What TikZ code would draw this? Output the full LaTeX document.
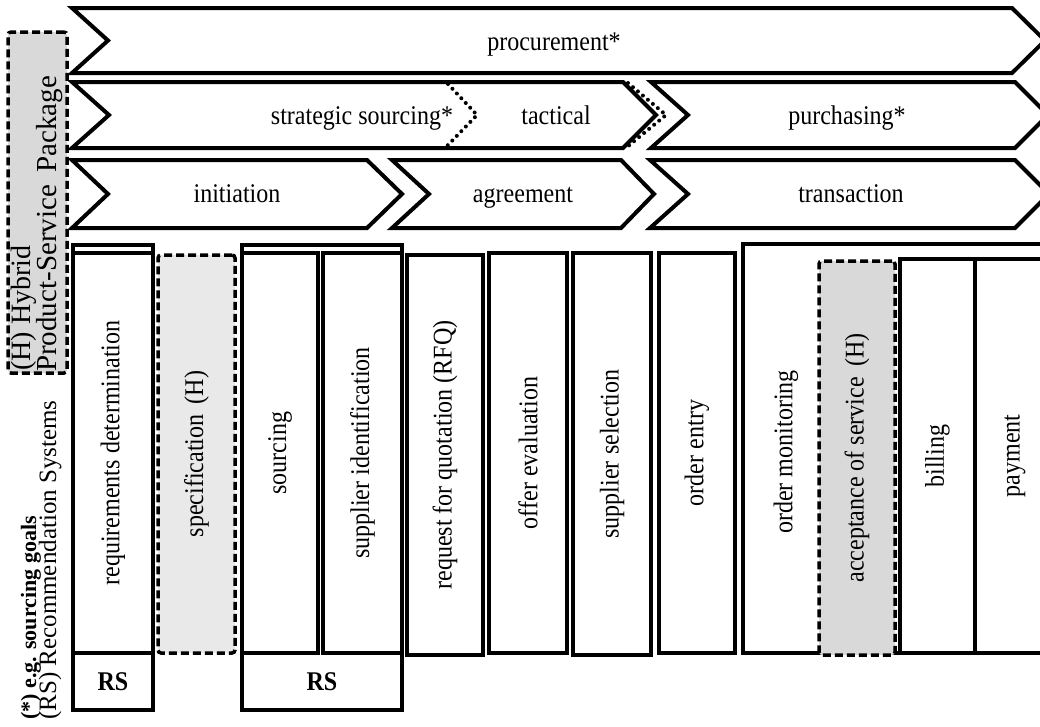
\documentclass[tikz,border=0pt]{standalone}
\usepackage{fontspec}
\setmainfont{Liberation Serif}[FakeStretch=0.89]
\newfontfamily\legendfont{Liberation Serif}
\definecolor{specgray}{HTML}{E9E9E9}
\definecolor{hgray}{HTML}{D9D9D9}
\begin{document}
\begin{tikzpicture}[x=1pt,y=-1pt,
  chev/.style={draw, line width=4pt, line join=miter, fill=white},
  dotline/.style={line width=4pt, line cap=round, dash pattern=on 0pt off 6.5pt},
  lbl/.style={inner sep=0pt, anchor=base, font=\fontsize{27}{30}\selectfont},
  rslbl/.style={inner sep=0pt, font=\fontsize{27}{30}\selectfont\bfseries},
  cell/.style={draw, line width=3.5pt, fill=white, inner sep=0pt,
    font=\fontsize{27}{30}\selectfont},
  hcell/.style={cell, dash pattern=on 8pt off 4pt, rounded corners=3pt},
  legendtxt/.style={inner sep=0pt, rotate=90, anchor=base west},
]
\clip (0,0) rectangle (1040,726);

% ---- phase chevrons ----
\draw[chev] (72,8) -- (1012,8) -- (1045,40.5) -- (1012,73) -- (72,73) -- (108,40.5) -- cycle;
\node[lbl] (procurement) at (554,50) {procurement*};

\draw[chev] (72,82) -- (623,82) -- (656,115) -- (623,148) -- (72,148) -- (109,115) -- cycle;
\draw[chev] (651,82) -- (1015,82) -- (1048,115) -- (1015,148) -- (651,148) -- (688,115) -- cycle;
\draw[dotline] (448,84) -- (477,115) -- (447,146);
\draw[dotline] (628,83) -- (666,115) -- (627,147);
\node[lbl] (strategic) at (362,124) {strategic sourcing*};
\node[lbl] (tactical) at (556,124) {tactical};
\node[lbl] (purchasing) at (847,124) {purchasing*};

\draw[chev] (72,160) -- (367,160) -- (402,194) -- (367,228) -- (72,228) -- (108,194) -- cycle;
\draw[chev] (392,160) -- (621,160) -- (654,194) -- (621,228) -- (392,228) -- (429,194) -- cycle;
\draw[chev] (650,160) -- (1015,160) -- (1049,194) -- (1015,228) -- (650,228) -- (688,194) -- cycle;
\node[lbl] (initiation) at (237,202) {initiation};
\node[lbl] (agreement) at (523,202) {agreement};
\node[lbl] (transaction) at (851,202) {transaction};

% ---- process steps ----
\node[cell, minimum width=80pt, minimum height=465pt] (reqgrp) at (113,477.5) {};
\node[cell, minimum width=80pt, minimum height=400pt] (req) at (113,453)
  {\rotatebox{90}{requirements determination}};
\node[rslbl] (rsone) at (113,682) {RS};

\node[hcell, fill=specgray, minimum width=77pt, minimum height=398pt] (spec) at (196.5,454)
  {\rotatebox{90}{specification\, (H)}};

\node[cell, minimum width=160pt, minimum height=465pt] (srcgrp) at (322,477.5) {};
\node[cell, minimum width=76pt, minimum height=400pt] (sourcing) at (280,453)
  {\rotatebox{90}{sourcing}};
\node[cell, minimum width=79pt, minimum height=400pt] (supid) at (362.5,453)
  {\rotatebox{90}{supplier identification}};
\node[rslbl] (rstwo) at (322,682) {RS};

\node[cell, minimum width=76pt, minimum height=400pt] (rfq) at (445,455)
  {\rotatebox{90}{request for quotation (RFQ)}};
\node[cell, minimum width=78pt, minimum height=400pt] (offer) at (528,453)
  {\rotatebox{90}{offer evaluation}};
\node[cell, minimum width=78pt, minimum height=402pt] (supsel) at (612,454)
  {\rotatebox{90}{supplier selection}};
\node[cell, minimum width=76pt, minimum height=400pt] (entry) at (697,453)
  {\rotatebox{90}{order entry}};

\node[cell, minimum width=400pt, minimum height=409pt] (mongrp) at (943,448.5) {};
\node[inner sep=0pt, rotate=90, font=\fontsize{27}{30}\selectfont] (monitoring) at (786,452) {order monitoring};
\node[hcell, fill=hgray, minimum width=76pt, minimum height=394pt] (accept) at (857,458)
  {\rotatebox{90}{acceptance of service\, (H)}};
\node[cell, minimum width=75pt, minimum height=394pt] (billing) at (937.5,456)
  {\rotatebox{90}{billing}};
\node[cell, minimum width=80pt, minimum height=394pt] (payment) at (1015,456)
  {\rotatebox{90}{payment}};

% ---- legend ----
\node[hcell, fill=hgray, minimum width=59pt, minimum height=341pt] (legend) at (37.5,202.5) {};
\node[legendtxt, font=\legendfont\fontsize{28}{30}\selectfont] (hybrid) at (30,371) {(H) Hybrid};
\node[legendtxt, font=\legendfont\fontsize{29}{30}\selectfont] (package) at (56,372)
  {Product-Service\hspace{5pt} Package};
\node[legendtxt, font=\legendfont\fontsize{22}{26}\selectfont\bfseries] (goals) at (36,720) {(*) e.g. sourcing goals};
\node[legendtxt, font=\legendfont\fontsize{25}{30}\selectfont] (recsys) at (56,720) {(RS) Recommendation Systems};
\end{tikzpicture}
\end{document}
